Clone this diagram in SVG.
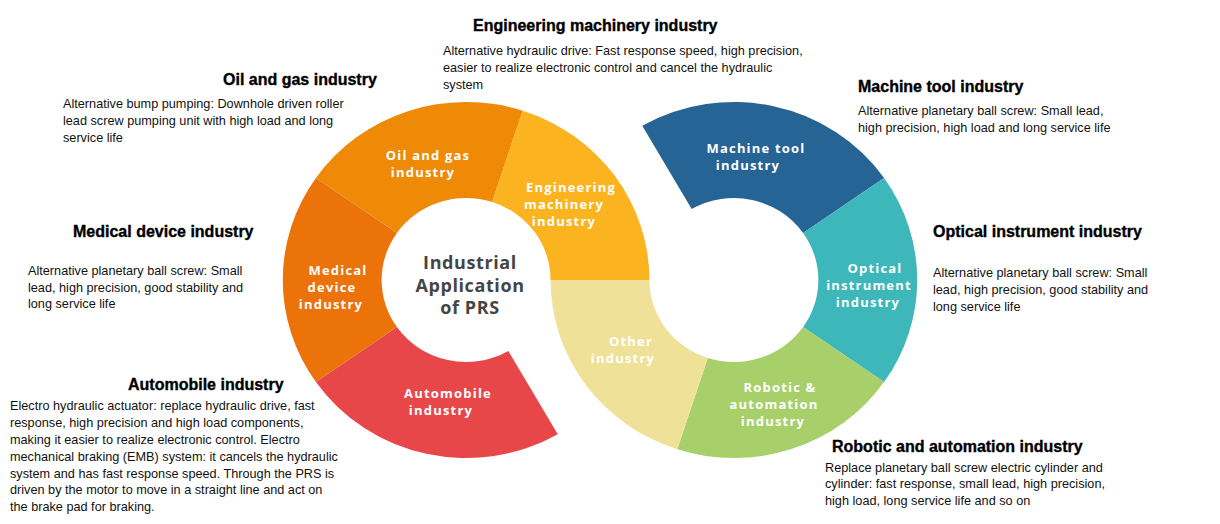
<svg xmlns="http://www.w3.org/2000/svg" width="1220" height="524" viewBox="0 0 1220 524">
<style>
.seg{stroke:none}
.lbl{font-family:"Open Sans","Noto Sans",sans-serif;font-weight:700;font-size:13px;letter-spacing:1.2px;fill:#fff;text-anchor:middle}
.ctr{font-family:"Open Sans","Noto Sans",sans-serif;font-weight:700;font-size:18px;fill:#454545;text-anchor:middle;letter-spacing:0.6px}
.hd{font-family:"Liberation Sans",Arial,sans-serif;font-weight:700;font-size:16px;fill:#000;stroke:#000;stroke-width:0.35px}
.bd{font-family:"Liberation Sans",Arial,sans-serif;font-size:12.7px;fill:#111}
</style>
<rect width="1220" height="524" fill="#fff"/>
<g id="ring" transform="matrix(1.03 0 0 1 600 280)">
  <path id="seg-auto" class="seg" fill="#E8474A" d="M-41,154.15 A178,178 0 0 1 -275.8,102.1 L-197.17,47.04 A82,82 0 0 0 -89,71 Z"/>
  <path id="seg-medical" class="seg" fill="#EC720A" d="M-275.8,102.1 A178,178 0 0 1 -275.8,-102.1 L-197.17,-47.04 A82,82 0 0 0 -197.17,47.04 Z"/>
  <path id="seg-oil" class="seg" fill="#EE8A05" d="M-275.8,-102.1 A178,178 0 0 1 -75,-169.3 L-104.66,-77.99 A82,82 0 0 0 -197.17,-47.04 Z"/>
  <path id="seg-eng" class="seg" fill="#FBB420" d="M-75,-169.3 A178,178 0 0 1 48,0 L-48,0 A82,82 0 0 0 -104.66,-77.99 Z"/>
  <path id="seg-machine" class="seg" fill="#276496" d="M41,-154.15 A178,178 0 0 1 275.8,-102.1 L197.17,-47.04 A82,82 0 0 0 89,-71 Z"/>
  <path id="seg-optical" class="seg" fill="#3DB7BA" d="M275.8,-102.1 A178,178 0 0 1 275.8,102.1 L197.17,47.04 A82,82 0 0 0 197.17,-47.04 Z"/>
  <path id="seg-robotic" class="seg" fill="#A8D06A" d="M275.8,102.1 A178,178 0 0 1 75,169.3 L104.66,77.99 A82,82 0 0 0 197.17,47.04 Z"/>
  <path id="seg-other" class="seg" fill="#F0E198" d="M75,169.3 A178,178 0 0 1 -48,0 L48,0 A82,82 0 0 0 104.66,77.99 Z"/>
</g>
<g id="center">
  <text class="ctr" x="470" y="269">Industrial</text>
  <text class="ctr" x="470" y="292">Application</text>
  <text class="ctr" x="470" y="314">of PRS</text>
</g>
<g id="labels">
  <text class="lbl" x="428" y="160">Oil and gas</text>
  <text class="lbl" x="423" y="177">industry</text>
  <text class="lbl" x="338" y="275">Medical</text>
  <text class="lbl" x="332" y="292">device</text>
  <text class="lbl" x="331" y="309">industry</text>
  <text class="lbl" x="448" y="398">Automobile</text>
  <text class="lbl" x="441" y="415">industry</text>
  <text class="lbl" x="571" y="192">Engineering</text>
  <text class="lbl" x="564" y="209">machinery</text>
  <text class="lbl" x="564" y="226">industry</text>
  <text class="lbl" x="756" y="153">Machine tool</text>
  <text class="lbl" x="748" y="170">industry</text>
  <text class="lbl" x="875" y="273">Optical</text>
  <text class="lbl" x="869" y="290">instrument</text>
  <text class="lbl" x="868" y="307">industry</text>
  <text class="lbl" x="631" y="346">Other</text>
  <text class="lbl" x="623" y="363">industry</text>
  <text class="lbl" x="780" y="392">Robotic &amp;</text>
  <text class="lbl" x="774" y="409">automation</text>
  <text class="lbl" x="773" y="426">industry</text>
</g>
<g id="note-oil">
  <text class="hd" x="223" y="85">Oil and gas industry</text>
  <text class="bd" x="63" y="108">Alternative bump pumping:  Downhole driven roller</text>
  <text class="bd" x="63" y="125">lead screw pumping unit with high load and long</text>
  <text class="bd" x="63" y="142">service life</text>
</g>
<g id="note-eng">
  <text class="hd" x="473" y="31">Engineering machinery industry</text>
  <text class="bd" x="443" y="55">Alternative hydraulic drive: Fast response  speed, high precision,</text>
  <text class="bd" x="443" y="72">easier to realize electronic control and cancel the hydraulic</text>
  <text class="bd" x="443" y="89">system</text>
</g>
<g id="note-machine">
  <text class="hd" x="858" y="92">Machine tool industry</text>
  <text class="bd" x="858" y="115">Alternative planetary ball screw: Small lead,</text>
  <text class="bd" x="858" y="132">high precision, high load and long service life</text>
</g>
<g id="note-optical">
  <text class="hd" x="933" y="237">Optical instrument industry</text>
  <text class="bd" x="933" y="277">Alternative planetary ball screw: Small</text>
  <text class="bd" x="933" y="294">lead, high precision,  good stability and</text>
  <text class="bd" x="933" y="311">long service life</text>
</g>
<g id="note-medical">
  <text class="hd" x="73" y="237">Medical device industry</text>
  <text class="bd" x="28" y="275">Alternative planetary ball screw: Small</text>
  <text class="bd" x="28" y="292">lead, high precision,  good stability and</text>
  <text class="bd" x="28" y="308">long service life</text>
</g>
<g id="note-auto">
  <text class="hd" x="128" y="390">Automobile industry</text>
  <text class="bd" x="10" y="410">Electro hydraulic actuator: replace hydraulic drive, fast</text>
  <text class="bd" x="10" y="427">response, high precision and high load components,</text>
  <text class="bd" x="10" y="444">making it easier to realize electronic control. Electro</text>
  <text class="bd" x="10" y="461">mechanical braking (EMB) system: it cancels the hydraulic</text>
  <text class="bd" x="10" y="478">system and has fast response speed. Through the PRS is</text>
  <text class="bd" x="10" y="494">driven by the motor to move in a straight line and act on</text>
  <text class="bd" x="10" y="511">the brake pad for braking.</text>
</g>
<g id="note-robotic">
  <text class="hd" x="832" y="452">Robotic and automation industry</text>
  <text class="bd" x="825" y="472">Replace planetary ball screw electric cylinder and</text>
  <text class="bd" x="825" y="488">cylinder: fast response,  small lead, high precision,</text>
  <text class="bd" x="825" y="505">high load, long service life and so on</text>
</g>
<g id="connectors"/>
</svg>
